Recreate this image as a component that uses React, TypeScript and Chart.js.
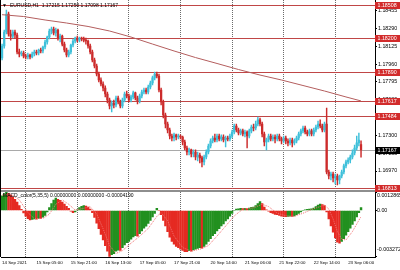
import React, { useEffect, useRef } from 'react';
import { Chart, registerables } from 'chart.js';

Chart.register(...registerables);

// ---------- data ----------
const opens = [
  1.18017, 1.18128, 1.18258, 1.18424, 1.18239, 1.18220, 1.18258, 1.18230, 1.18072, 1.18054,
  1.18063, 1.18035, 1.18026, 1.18045, 1.18026, 1.18054, 1.18072, 1.18063, 1.18091, 1.18082,
  1.18119, 1.18165, 1.18211, 1.18267, 1.18285, 1.18248, 1.18276, 1.18202, 1.18220, 1.18146,
  1.18091, 1.18045, 1.18072, 1.18137, 1.18174, 1.18202, 1.18183, 1.18202, 1.18193, 1.18183,
  1.18174, 1.18128, 1.18072, 1.17998, 1.17943, 1.17869, 1.17813, 1.17776, 1.17739, 1.17683,
  1.17628, 1.17572, 1.17600, 1.17581, 1.17646, 1.17609, 1.17572, 1.17628, 1.17683, 1.17665,
  1.17628, 1.17656, 1.17693, 1.17646, 1.17619, 1.17665, 1.17702, 1.17720, 1.17702, 1.17748,
  1.17785, 1.17832, 1.17869, 1.17850, 1.17720, 1.17609, 1.17489, 1.17405, 1.17350, 1.17294,
  1.17276, 1.17304, 1.17285, 1.17294, 1.17285, 1.17239, 1.17183, 1.17146, 1.17165, 1.17128,
  1.17146, 1.17100, 1.17118, 1.17091, 1.17054, 1.17100, 1.17146, 1.17202, 1.17248, 1.17276,
  1.17257, 1.17294, 1.17267, 1.17285, 1.17257, 1.17276, 1.17267, 1.17294, 1.17331, 1.17387,
  1.17350, 1.17322, 1.17341, 1.17313, 1.17331, 1.17294, 1.17341, 1.17378, 1.17368, 1.17405,
  1.17443, 1.17405, 1.17313, 1.17239, 1.17257, 1.17294, 1.17267, 1.17285, 1.17267, 1.17294,
  1.17267, 1.17248, 1.17276, 1.17248, 1.17230, 1.17257, 1.17230, 1.17248, 1.17276, 1.17313,
  1.17341, 1.17368, 1.17331, 1.17313, 1.17341, 1.17313, 1.17350, 1.17378, 1.17405, 1.17387,
  1.17350, 1.17405, 1.16961, 1.16924, 1.16942, 1.16905, 1.16924, 1.16887, 1.16924, 1.16961,
  1.17017, 1.17054, 1.17072, 1.17100, 1.17137, 1.17183, 1.17230, 1.17215,
];
const highs = [
  1.18146, 1.18276, 1.18461, 1.18443, 1.18276, 1.18276, 1.18276, 1.18248, 1.18100, 1.18082,
  1.18082, 1.18054, 1.18063, 1.18054, 1.18072, 1.18091, 1.18091, 1.18100, 1.18109, 1.18128,
  1.18183, 1.18220, 1.18285, 1.18304, 1.18304, 1.18295, 1.18285, 1.18239, 1.18230, 1.18165,
  1.18109, 1.18091, 1.18146, 1.18193, 1.18211, 1.18220, 1.18211, 1.18211, 1.18211, 1.18202,
  1.18183, 1.18146, 1.18091, 1.18017, 1.17961, 1.17887, 1.17832, 1.17795, 1.17758, 1.17702,
  1.17646, 1.17619, 1.17628, 1.17665, 1.17665, 1.17628, 1.17646, 1.17702, 1.17711, 1.17683,
  1.17674, 1.17711, 1.17702, 1.17665, 1.17683, 1.17720, 1.17739, 1.17739, 1.17767, 1.17804,
  1.17850, 1.17887, 1.17887, 1.17869, 1.17739, 1.17628, 1.17507, 1.17424, 1.17368, 1.17313,
  1.17322, 1.17313, 1.17313, 1.17304, 1.17294, 1.17257, 1.17202, 1.17183, 1.17174, 1.17165,
  1.17165, 1.17146, 1.17137, 1.17109, 1.17118, 1.17165, 1.17220, 1.17267, 1.17294, 1.17313,
  1.17313, 1.17313, 1.17304, 1.17304, 1.17294, 1.17294, 1.17313, 1.17350, 1.17405, 1.17405,
  1.17368, 1.17359, 1.17359, 1.17350, 1.17341, 1.17359, 1.17396, 1.17405, 1.17433, 1.17470,
  1.17461, 1.17424, 1.17331, 1.17276, 1.17313, 1.17313, 1.17304, 1.17304, 1.17313, 1.17313,
  1.17285, 1.17294, 1.17294, 1.17267, 1.17276, 1.17276, 1.17267, 1.17294, 1.17331, 1.17359,
  1.17387, 1.17387, 1.17350, 1.17359, 1.17359, 1.17368, 1.17396, 1.17433, 1.17443, 1.17405,
  1.17424, 1.17554, 1.16979, 1.16961, 1.16961, 1.16942, 1.16942, 1.16933, 1.16979, 1.17035,
  1.17072, 1.17091, 1.17118, 1.17165, 1.17211, 1.17294, 1.17322, 1.17250,
];
const lows = [
  1.17998, 1.18109, 1.18239, 1.18220, 1.18183, 1.18202, 1.18202, 1.18054, 1.18026, 1.18035,
  1.18017, 1.18008, 1.18008, 1.18008, 1.18017, 1.18035, 1.18045, 1.18045, 1.18063, 1.18063,
  1.18100, 1.18146, 1.18193, 1.18239, 1.18230, 1.18220, 1.18183, 1.18165, 1.18128, 1.18072,
  1.18026, 1.18026, 1.18054, 1.18119, 1.18156, 1.18165, 1.18165, 1.18174, 1.18165, 1.18146,
  1.18109, 1.18054, 1.17980, 1.17924, 1.17850, 1.17795, 1.17758, 1.17711, 1.17656, 1.17600,
  1.17544, 1.17517, 1.17554, 1.17563, 1.17591, 1.17554, 1.17554, 1.17609, 1.17646, 1.17609,
  1.17609, 1.17637, 1.17628, 1.17591, 1.17600, 1.17646, 1.17683, 1.17683, 1.17683, 1.17730,
  1.17767, 1.17813, 1.17832, 1.17702, 1.17581, 1.17461, 1.17368, 1.17322, 1.17267, 1.17248,
  1.17248, 1.17257, 1.17267, 1.17267, 1.17211, 1.17165, 1.17118, 1.17118, 1.17100, 1.17100,
  1.17072, 1.17063, 1.17044, 1.17007, 1.17026, 1.17081, 1.17128, 1.17183, 1.17230, 1.17239,
  1.17239, 1.17248, 1.17248, 1.17239, 1.17193, 1.17248, 1.17248, 1.17276, 1.17313, 1.17331,
  1.17304, 1.17304, 1.17294, 1.17285, 1.17183, 1.17276, 1.17322, 1.17341, 1.17350, 1.17387,
  1.17387, 1.17285, 1.17202, 1.17165, 1.17239, 1.17248, 1.17248, 1.17230, 1.17248, 1.17248,
  1.17220, 1.17230, 1.17220, 1.17202, 1.17211, 1.17193, 1.17211, 1.17230, 1.17257, 1.17294,
  1.17322, 1.17313, 1.17294, 1.17294, 1.17294, 1.17294, 1.17331, 1.17359, 1.17368, 1.17331,
  1.17331, 1.16942, 1.16896, 1.16887, 1.16868, 1.16850, 1.16841, 1.16850, 1.16905, 1.16942,
  1.16998, 1.17035, 1.17044, 1.17081, 1.17118, 1.17165, 1.17202, 1.17098,
];
const closes = [
  1.18128, 1.18258, 1.18424, 1.18239, 1.18220, 1.18258, 1.18230, 1.18072, 1.18054, 1.18063,
  1.18035, 1.18026, 1.18045, 1.18026, 1.18054, 1.18072, 1.18063, 1.18091, 1.18082, 1.18119,
  1.18165, 1.18211, 1.18267, 1.18285, 1.18248, 1.18276, 1.18202, 1.18220, 1.18146, 1.18091,
  1.18045, 1.18072, 1.18137, 1.18174, 1.18202, 1.18183, 1.18202, 1.18193, 1.18183, 1.18174,
  1.18128, 1.18072, 1.17998, 1.17943, 1.17869, 1.17813, 1.17776, 1.17739, 1.17683, 1.17628,
  1.17572, 1.17600, 1.17581, 1.17646, 1.17609, 1.17572, 1.17628, 1.17683, 1.17665, 1.17628,
  1.17656, 1.17693, 1.17646, 1.17619, 1.17665, 1.17702, 1.17720, 1.17702, 1.17748, 1.17785,
  1.17832, 1.17869, 1.17850, 1.17720, 1.17609, 1.17489, 1.17405, 1.17350, 1.17294, 1.17276,
  1.17304, 1.17285, 1.17294, 1.17285, 1.17239, 1.17183, 1.17146, 1.17165, 1.17128, 1.17146,
  1.17100, 1.17118, 1.17091, 1.17054, 1.17100, 1.17146, 1.17202, 1.17248, 1.17276, 1.17257,
  1.17294, 1.17267, 1.17285, 1.17257, 1.17276, 1.17267, 1.17294, 1.17331, 1.17387, 1.17350,
  1.17322, 1.17341, 1.17313, 1.17331, 1.17294, 1.17341, 1.17378, 1.17368, 1.17405, 1.17443,
  1.17405, 1.17313, 1.17239, 1.17257, 1.17294, 1.17267, 1.17285, 1.17267, 1.17294, 1.17267,
  1.17248, 1.17276, 1.17248, 1.17230, 1.17257, 1.17230, 1.17248, 1.17276, 1.17313, 1.17341,
  1.17368, 1.17331, 1.17313, 1.17341, 1.17313, 1.17350, 1.17378, 1.17405, 1.17387, 1.17350,
  1.17405, 1.16961, 1.16924, 1.16942, 1.16905, 1.16924, 1.16887, 1.16924, 1.16961, 1.17017,
  1.17054, 1.17072, 1.17100, 1.17137, 1.17183, 1.17230, 1.17257, 1.17167,
];

// moving average, read at sample bars
const maBars = [0, 10, 20, 30, 40, 50, 60, 70, 80, 90, 100, 110, 120, 130, 140, 150, 160, 167];
const maValues = [
  1.18418, 1.18401, 1.18369, 1.18341, 1.18309, 1.18267, 1.18211, 1.18146, 1.18082,
  1.18021, 1.17966, 1.17910, 1.17859, 1.17813, 1.17762, 1.17711, 1.17656, 1.17619,
];

// MACD histogram, one per bar
const macd = [
  0.00105, 0.0012, 0.0012865, 0.00123, 0.0011, 0.00095, 0.0008, 0.0006, 0.00035, 0.00008,
  -0.00018, -0.0004, -0.00058, -0.00068, -0.00064, -0.0006, -0.00061, -0.00056, -0.00057, -0.00048,
  -0.00035, -0.0001, 0.0002, 0.0005, 0.00075, 0.00088, 0.0008, 0.00072, 0.0006, 0.00045,
  0.0003, 0.00015, -0.00005, -0.00015, -0.0001, 0.00005, 0.0002, 0.0003, 0.00035, 0.00032,
  0.00025, 0.0001, -0.00015, -0.0005, -0.0009, -0.0013, -0.0017, -0.0021, -0.0025, -0.0029,
  -0.003272, -0.00315, -0.00308, -0.0029, -0.00282, -0.00285, -0.00265, -0.00245, -0.0023, -0.0022,
  -0.00205, -0.00188, -0.0018, -0.00182, -0.00165, -0.00145, -0.00125, -0.00112, -0.00092, -0.0007,
  -0.00045, -0.0002, 0.00015, 0.0, -0.0003, -0.0007, -0.0011, -0.0015, -0.0019, -0.0022,
  -0.0024, -0.00255, -0.00265, -0.00275, -0.00285, -0.00293, -0.00294, -0.00286, -0.00289, -0.0028,
  -0.00275, -0.0027, -0.00265, -0.00268, -0.00255, -0.0024, -0.0022, -0.002, -0.0018, -0.00165,
  -0.00145, -0.0013, -0.0011, -0.00095, -0.00075, -0.0006, -0.0004, -0.0002, 0.0, 0.0001,
  0.00012, 0.00015, 0.00013, 0.00016, 0.00014, 0.00018, 0.00022, 0.00025, 0.00035, 0.0005,
  0.00063, 0.0005, 0.00025, 0.00005, -0.00005, -0.00015, -0.0002, -0.00028, -0.0003, -0.00035,
  -0.0004, -0.00042, -0.00044, -0.00042, -0.0004, -0.00043, -0.00038, -0.0003, -0.0002, -0.0001,
  0.0, 0.00005, 0.00008, 0.0001, 0.00012, 0.00018, 0.00028, 0.00038, 0.00046, 0.00042,
  0.00035, -0.0001, -0.0006, -0.0011, -0.00155, -0.00195, -0.00225, -0.00232, -0.0022, -0.002,
  -0.00175, -0.0015, -0.00125, -0.001, -0.00075, -0.00045, -0.00015, 0.0002,
];

// signal line, read at sample bars
const signalBars = [
  0, 4, 8, 12, 15, 19, 22, 25, 28, 31, 34, 38, 41, 44, 47, 50, 53, 56, 60, 64, 68, 72, 74, 77, 80,
  84, 88, 92, 96, 100, 104, 108, 112, 117, 121, 124, 128, 132, 136, 140, 144, 148, 150, 152, 154,
  156, 158, 160, 163, 167,
];
const signalValues = [
  0.0011, 0.00117, 0.00076, -0.000146, -0.00058, -0.00056, -0.00026, 0.000446, 0.00075, 0.000444,
  0.00003, 0.00016, 0.000264, -0.00024, -0.0013, -0.00249, -0.00306, -0.00286, -0.00233, -0.00184,
  -0.00128, -0.00042, -0.00016, -0.00072, -0.00182, -0.00264, -0.00289, -0.00276, -0.0025, -0.00182,
  -0.00111, -0.00039, 0.0001, 0.00019, 0.000446, 0.000276, -0.000196, -0.00038, -0.00041, -0.000196,
  0.00007, 0.000284, 0.000378, 0.000106, -0.0006, -0.00149, -0.00205, -0.0021, -0.0015, -0.00043,
];

const priceTicks = [1.18455, 1.1829, 1.18125, 1.1796, 1.17795, 1.1763, 1.17465, 1.173, 1.17135, 1.1697];
const levelValues = [1.18508, 1.182, 1.1789, 1.17617, 1.17484, 1.16813];
const levelLabels = ['1.18508', '1.18200', '1.17890', '1.17617', '1.17484', '1.16813'];
const lastPrice = 1.17167;
const lastPriceLabel = '1.17167';
const macdTicks = [0.0012865, 0, -0.003272];
const macdTickLabels = ['0.0012865', '0.00', '-0.003272'];
const timeLabelBars = [0, 16, 32, 48, 64, 80, 97, 113, 129, 145, 161];
const timeLabels = [
  '14 Sep 2021', '15 Sep 05:00', '15 Sep 21:00', '16 Sep 13:00', '17 Sep 05:00', '17 Sep 21:00',
  '20 Sep 14:00', '21 Sep 06:00', '21 Sep 22:00', '22 Sep 14:00', '23 Sep 06:00',
];
const gridBars = [11, 35, 59, 83, 107, 131, 155];
const SLOTS = 174;
const headerText = 'EURUSD,H1  1.17215 1.17250 1.17098 1.17167';
const macdHeaderText = 'MACD_color(5,35,5) 0.00000000 0.00000000 -0.00004190';

// ---------- styles ----------
const FONT = '"Liberation Sans", Arial, sans-serif';
const BULL = '#3fc0da';
const BEAR = '#cc2b2b';
const MACD_UP = '#22901f';
const MACD_DOWN = '#e52a22';
const LEVEL = '#c04646';
const MA_COLOR = '#b45e5e';
const GRID = '#6a6a6a';

export default function App() {
  const ref = useRef<HTMLCanvasElement>(null);

  useEffect(() => {
    document.body.style.margin = '0';
    const canvas = ref.current!;
    const n = closes.length;
    const labels = Array.from({ length: SLOTS }, (_, i) => String(i));
    const maSeries: (number | null)[] = new Array(n).fill(null);
    maBars.forEach((b, k) => (maSeries[b] = maValues[k]));
    const sigSeries: (number | null)[] = new Array(n).fill(null);
    signalBars.forEach((b, k) => (sigSeries[b] = signalValues[k]));
    const candleColor = (i: number) => (closes[i] >= opens[i] ? BULL : BEAR);
    const macdColor = (i: number) => (i === 0 || macd[i] >= macd[i - 1] ? MACD_UP : MACD_DOWN);

    const drawBox = (ctx: CanvasRenderingContext2D, y: number, text: string, bg: string) => {
      ctx.fillStyle = bg;
      ctx.fillRect(375, Math.round(y) - 3, 25, 7);
      ctx.fillStyle = '#ffffff';
      ctx.font = `5.3px ${FONT}`;
      ctx.textBaseline = 'middle';
      ctx.textAlign = 'left';
      ctx.fillText(text, 377.5, Math.round(y) + 0.6);
    };

    const overlay = {
      id: 'overlay',
      beforeDatasetsDraw(chart: any) {
        const { ctx, chartArea } = chart;
        const ys = chart.scales.y;
        ctx.save();
        ctx.lineWidth = 1;
        ctx.strokeStyle = LEVEL;
        levelValues.forEach((v) => {
          const py = Math.round(ys.getPixelForValue(v)) + 0.5;
          ctx.beginPath();
          ctx.moveTo(chartArea.left, py);
          ctx.lineTo(chartArea.right, py);
          ctx.stroke();
        });
        ctx.strokeStyle = '#a9a9a9';
        const lp = Math.round(ys.getPixelForValue(lastPrice)) + 0.5;
        ctx.beginPath();
        ctx.moveTo(chartArea.left, lp);
        ctx.lineTo(chartArea.right, lp);
        ctx.stroke();
        ctx.restore();
      },
      afterDraw(chart: any) {
        const { ctx } = chart;
        const ys = chart.scales.y;
        const ym = chart.scales.yMacd;
        ctx.save();
        // window separator and frame
        ctx.fillStyle = '#8e8e8e';
        ctx.fillRect(0, 190, 400, 2);
        ctx.fillStyle = '#000';
        ctx.fillRect(0, 0, 1, 257);
        // level labels
        levelValues.forEach((v, k) => drawBox(ctx, ys.getPixelForValue(v), levelLabels[k], '#d22b2b'));
        drawBox(ctx, ys.getPixelForValue(lastPrice), lastPriceLabel, '#000000');
        // MACD axis labels
        ctx.fillStyle = '#000';
        ctx.font = `5.3px ${FONT}`;
        ctx.textAlign = 'left';
        ctx.textBaseline = 'middle';
        const offs = [3, 0, -6.4];
        macdTicks.forEach((v, k) => {
          ctx.fillText(macdTickLabels[k], 377, ym.getPixelForValue(v) + offs[k]);
        });
        // headers
        ctx.font = `5px ${FONT}`;
        ctx.fillText('\u25BC', 2, 5.5);
        ctx.fillText(headerText, 10, 5.5);
        ctx.fillText(macdHeaderText, 3, 195.5);
        ctx.restore();
      },
    };

    const chart = new Chart(canvas, {
      type: 'bar',
      data: {
        labels,
        datasets: [
          {
            type: 'bar',
            label: 'wick',
            data: lows.map((l, i) => [l, highs[i]]),
            backgroundColor: (c: any) => candleColor(c.dataIndex),
            barThickness: 0.8,
            grouped: false,
            yAxisID: 'y',
            order: 3,
          },
          {
            type: 'bar',
            label: 'body',
            data: opens.map((o, i) => [o, closes[i]]),
            backgroundColor: (c: any) => candleColor(c.dataIndex),
            barThickness: 1.6,
            grouped: false,
            yAxisID: 'y',
            order: 2,
          },
          {
            type: 'line',
            label: 'ma',
            data: maSeries,
            borderColor: MA_COLOR,
            borderWidth: 1,
            pointRadius: 0,
            spanGaps: true,
            tension: 0,
            yAxisID: 'y',
            order: 1,
          },
          {
            type: 'bar',
            label: 'macd',
            data: macd,
            backgroundColor: (c: any) => macdColor(c.dataIndex),
            barThickness: 1.8,
            grouped: false,
            yAxisID: 'yMacd',
            order: 2,
          },
          {
            type: 'line',
            label: 'signal',
            data: sigSeries,
            borderColor: '#f07070',
            borderWidth: 1,
            borderDash: [1, 1],
            pointRadius: 0,
            spanGaps: true,
            yAxisID: 'yMacd',
            order: 0,
          },
        ] as any,
      },
      options: {
        responsive: false,
        animation: false,
        devicePixelRatio: 1,
        events: [],
        layout: { padding: { left: 1, top: 0, right: 0, bottom: 0 } },
        plugins: { legend: { display: false }, tooltip: { enabled: false } },
        scales: {
          x: {
            type: 'category',
            offset: true,
            grid: {
              offset: false,
              drawTicks: false,
              color: (c: any) => (gridBars.includes(c.index) ? GRID : 'rgba(0,0,0,0)'),
              lineWidth: 1,
            },
            border: { display: true, color: '#000', width: 1, dash: [1, 1] },
            ticks: {
              autoSkip: false,
              maxRotation: 0,
              minRotation: 0,
              align: 'start',
              padding: 3,
              color: '#000',
              font: { family: FONT, size: 4.4 },
              callback: (_v: any, i: number) => {
                const k = timeLabelBars.indexOf(i);
                return k >= 0 ? timeLabels[k] : '';
              },
            },
            afterFit: (s: any) => {
              s.height = 13;
              s.paddingLeft = 0;
              s.paddingRight = 0;
            },
          },
          y: {
            type: 'linear',
            position: 'right',
            stack: 'panes',
            stackWeight: 191.5,
            min: 1.167801,
            max: 1.185541,
            afterBuildTicks: (a: any) => {
              a.ticks = priceTicks.map((v) => ({ value: v }));
            },
            ticks: {
              autoSkip: false,
              padding: 1,
              color: '#000',
              font: { family: FONT, size: 5.3 },
              callback: (v: any) => Number(v).toFixed(5),
            },
            grid: { drawOnChartArea: false, drawTicks: true, tickLength: 2, color: '#000' },
            border: { display: true, color: '#000' },
            afterFit: (s: any) => {
              s.width = 25;
              s.paddingTop = 0;
              s.paddingBottom = 0;
            },
          },
          yMacd: {
            type: 'linear',
            position: 'right',
            stack: 'panes',
            stackWeight: 65.5,
            min: -0.003312,
            max: 0.001353,
            afterBuildTicks: (a: any) => {
              a.ticks = macdTicks.map((v) => ({ value: v }));
            },
            ticks: { display: false },
            grid: { drawOnChartArea: false, drawTicks: true, tickLength: 2, color: '#000' },
            border: { display: true, color: '#000' },
            afterFit: (s: any) => {
              s.width = 25;
              s.paddingTop = 0;
              s.paddingBottom = 0;
            },
          },
        },
      } as any,
      plugins: [overlay],
    });
    return () => chart.destroy();
  }, []);

  return <canvas ref={ref} width={400} height={270} style={{ display: 'block' }} />;
}
